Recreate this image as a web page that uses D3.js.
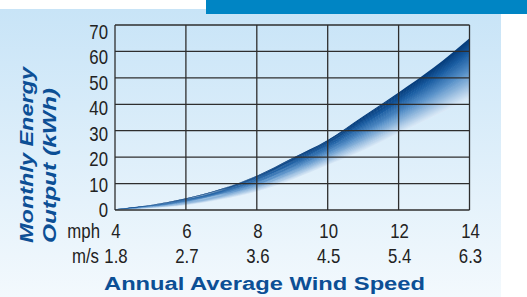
<!DOCTYPE html>
<html>
<head>
<meta charset="utf-8">
<script src="https://cdn.jsdelivr.net/npm/d3@7"></script>
<style>
  html, body { margin: 0; padding: 0; background: #fff; }
  svg { display: block; }
</style>
</head>
<body>
<div id="caja"></div>
<script>
// valores
var mph      = [4, 5, 6, 7, 8, 9, 10, 11, 12, 13, 14];
var superior = [0.3, 1.9, 4.4, 8, 13, 19.7, 26.5, 35.5, 44.5, 54, 65];
var inferior = [0, 0.7, 1.8, 4, 7, 11.5, 17, 22.5, 29, 35.5, 42];

var mphTicks = [4, 6, 8, 10, 12, 14];
var msTicks  = ["1.8", "2.7", "3.6", "4.5", "5.4", "6.3"];
var yTicks   = [0, 10, 20, 30, 40, 50, 60, 70];

var w = 527, h = 297;
var azul = "#0c4f95";
var numFont = "'Liberation Sans', Arial, sans-serif";
var tituloFont = "'Liberation Sans', Arial, sans-serif";
var angosto = 0.84; // las cifras del original son condensadas

var svg = d3.select('#caja')
  .append('svg')
  .attr('width', w)
  .attr('height', h);

var defs = svg.append("defs");
var fondo = defs.append("linearGradient")
  .attr("id", "fondo")
  .attr("x1", 0).attr("y1", 0).attr("x2", 0).attr("y2", 1);
fondo.append("stop").attr("offset", "0%").attr("stop-color", "#c8e4f7");
fondo.append("stop").attr("offset", "100%").attr("stop-color", "#f3f9fd");

// panel celeste y barra azul superior
svg.append("rect")
  .attr("x", 0).attr("y", 9)
  .attr("width", 501).attr("height", h - 9)
  .style("fill", "url(#fondo)");

svg.append("rect")
  .attr("x", 206).attr("y", 0)
  .attr("width", w - 206).attr("height", 14)
  .style("fill", "#0085c4");

var x = d3.scaleLinear().domain([4, 14]).range([115, 469.5]);
var y = d3.scaleLinear().domain([0, 70]).range([210, 25]);
// las etiquetas del eje y estan un poco mas juntas que la grilla
var yLab = d3.scaleLinear().domain([0, 70]).range([210, 32]);

// banda con degradado: franjas finas de abajo hacia arriba
var color = d3.scaleLinear()
  .domain([0, 0.5, 0.8, 1])
  .range(["#e4f0fa", "#5790c8", "#195ca1", "#063d7c"]);

var n = 40;
var banda = svg.append("g").classed("banda", true);
banda.selectAll("path")
  .data(d3.range(1, n + 1).map(function(i) { return i / n; }))
  .enter()
  .append("path")
  .attr("d", function(t) {
    var t0 = Math.max(0, t - 1.6 / n);
    return d3.area()
      .x(function(d, i) { return x(mph[i]); })
      .y0(function(d, i) { return y(inferior[i] + t0 * (superior[i] - inferior[i])); })
      .y1(function(d, i) { return y(inferior[i] + t * (superior[i] - inferior[i])); })
      .curve(d3.curveMonotoneX)(mph);
  })
  .style("fill", function(t) { return color(t); });

// grilla
var grilla = svg.append("g").classed("grilla", true)
  .style("stroke", "#2e2e2e")
  .style("stroke-width", 1.3);

grilla.selectAll("line.h")
  .data(yTicks)
  .enter()
  .append("line")
  .attr("x1", x(4)).attr("x2", x(14))
  .attr("y1", function(d) { return y(d); })
  .attr("y2", function(d) { return y(d); });

grilla.selectAll("line.v")
  .data(mphTicks)
  .enter()
  .append("line")
  .attr("x1", function(d) { return x(d); })
  .attr("x2", function(d) { return x(d); })
  .attr("y1", y(70)).attr("y2", y(0));

// textos de ejes, escalados en horizontal
function cifra(g, px, py, anchor, txt) {
  g.append("text")
    .attr("transform", "translate(" + px + "," + py + ") scale(" + angosto + ",1)")
    .attr("text-anchor", anchor)
    .text(txt)
    .style("font-family", numFont)
    .style("font-size", "20px")
    .style("fill", "#222");
}

var ejeY = svg.append("g");
yTicks.forEach(function(d) { cifra(ejeY, 108, yLab(d) + 7, "end", d); });

var ejeX = svg.append("g");
mphTicks.forEach(function(d) { cifra(ejeX, x(d) + 1, 238, "middle", d); });
msTicks.forEach(function(d, i) { cifra(ejeX, x(mphTicks[i]) + 1, 263, "middle", d); });
cifra(ejeX, 100, 238, "end", "mph");
cifra(ejeX, 99, 263, "end", "m/s");

// titulos
svg.append("text")
  .attr("x", 104).attr("y", 290)
  .attr("textLength", 321)
  .attr("lengthAdjust", "spacingAndGlyphs")
  .text("Annual Average Wind Speed")
  .style("font-family", tituloFont)
  .style("font-weight", "bold")
  .style("font-size", "18px")
  .style("fill", azul);

var lineasY = [
  {txt: "Monthly Energy", bx: 33, largo: 176},
  {txt: "Output (kWh)", bx: 56, largo: 155}
];
svg.append("g")
  .selectAll("text")
  .data(lineasY)
  .enter()
  .append("text")
  .attr("transform", function(d) { return "translate(" + d.bx + ",243) rotate(-90)"; })
  .attr("textLength", function(d) { return d.largo; })
  .attr("lengthAdjust", "spacingAndGlyphs")
  .text(function(d) { return d.txt; })
  .style("font-family", tituloFont)
  .style("font-weight", "bold")
  .style("font-style", "italic")
  .style("font-size", "18px")
  .style("fill", azul);
</script>
</body>
</html>
